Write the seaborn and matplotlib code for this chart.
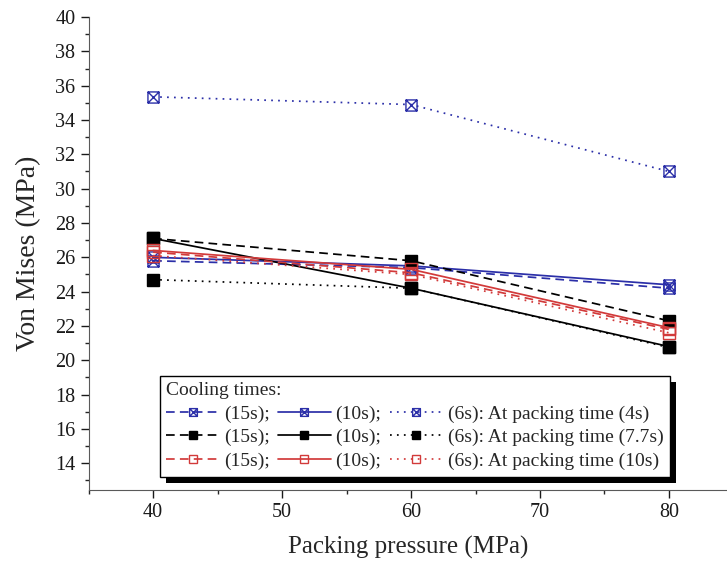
import matplotlib
matplotlib.use('Agg')
import matplotlib.pyplot as plt
from matplotlib.path import Path
from matplotlib.patches import Rectangle
from matplotlib.ticker import MultipleLocator
from matplotlib.transforms import IdentityTransform
import numpy as np
import seaborn as sns

sns.set_style('ticks')
plt.rcParams['font.family'] = ['Liberation Serif', 'DejaVu Serif']

# Data
pressure = [40, 60, 80]

# packing time 4s (blue)
blue_15s = [25.8, 25.4, 24.2]
blue_10s = [26.0, 25.5, 24.4]
blue_6s = [35.35, 34.9, 31.0]
# packing time 7.7s (black)
black_15s = [27.1, 25.8, 22.3]
black_10s = [27.1, 24.2, 20.8]
black_6s = [24.7, 24.2, 20.75]
# packing time 10s (red)
red_15s = [26.3, 25.1, 21.8]
red_10s = [26.4, 25.3, 21.9]
red_6s = [26.1, 25.0, 21.6]

cooling_labels = ['(15s);', '(10s);', '(6s): At packing time']
packing_labels = ['(4s)', '(7.7s)', '(10s)']

# square with an X inside
boxtimes = Path(
    [(-1, -1), (1, -1), (1, 1), (-1, 1), (-1, -1), (-1, -1), (1, 1), (-1, 1), (1, -1)],
    [Path.MOVETO, Path.LINETO, Path.LINETO, Path.LINETO, Path.CLOSEPOLY,
     Path.MOVETO, Path.LINETO, Path.MOVETO, Path.LINETO])

BLUE = '#2b2fa8'
RED = '#d23a3a'
BLACK = 'black'

groups = [
    (BLUE, boxtimes, 'none', [blue_15s, blue_10s, blue_6s], packing_labels[0]),
    (BLACK, 's', BLACK, [black_15s, black_10s, black_6s], packing_labels[1]),
    (RED, 's', 'none', [red_15s, red_10s, red_6s], packing_labels[2]),
]
styles = [(0, (5, 3)), '-', (0, (1, 3))]

fig = plt.figure(figsize=(7.27, 5.67), dpi=100)
ax = fig.add_axes([0.122, 0.136, 0.878, 0.834])

handles = {}
for gi, (color, marker, mfc, series, ptime) in enumerate(groups):
    for si, vals in enumerate(series):
        lab = cooling_labels[si] + (' ' + ptime if si == 2 else '')
        sns.lineplot(x=pressure, y=vals, ax=ax, color=color, linestyle=styles[si],
                     linewidth=1.25, marker=marker, markersize=8,
                     markerfacecolor=mfc, markeredgecolor=color, markeredgewidth=1.0,
                     label=lab, legend=False)
        handles[(gi, si)] = ax.lines[-1]

ax.set_xlim(35, 84.5)
ax.set_ylim(12.45, 40)
ax.xaxis.set_major_locator(MultipleLocator(10))
ax.xaxis.set_minor_locator(MultipleLocator(5))
ax.yaxis.set_major_locator(MultipleLocator(2))
ax.yaxis.set_minor_locator(MultipleLocator(1))
ax.set_yticks(np.arange(14, 41, 2))
ax.tick_params(which='major', direction='out', length=6, width=1, labelsize=14.5, colors='0.1')
ax.tick_params(which='minor', direction='out', length=3, width=1)
for s in ['top', 'right']:
    ax.spines[s].set_visible(False)
for s in ['left', 'bottom']:
    ax.spines[s].set_color('0.35')

ax.set_xlabel('Packing pressure (MPa)', fontsize=18, labelpad=10)
ax.set_ylabel('Von Mises (MPa)', fontsize=20, labelpad=10)

# legend: 3 columns (cooling times), rows = packing times
order = [(g, s) for s in range(3) for g in range(3)]
leg_handles = [handles[k] for k in order]
leg_labels = [h.get_label() for h in leg_handles]
leg = ax.legend(leg_handles, leg_labels, ncol=3, title='Cooling times:',
                loc='lower left', bbox_to_anchor=(0.111, 0.028), borderaxespad=0,
                fontsize=14, title_fontsize=14, alignment='left',
                frameon=True, fancybox=False, edgecolor='black', framealpha=1,
                handlelength=2.7, handletextpad=0.25, columnspacing=0.45,
                labelspacing=0.3, borderpad=0.35, markerscale=0.7)
leg.get_frame().set_linewidth(1.0)
leg.set_zorder(6)

# thick black drop shadow behind the legend box
fig.canvas.draw()
bb = leg.get_window_extent()
off = 6
shadow = Rectangle((bb.x0 + off, bb.y0 - off), bb.width, bb.height,
                   transform=IdentityTransform(), facecolor='black',
                   edgecolor='none', zorder=5.5, clip_on=False)
ax.add_artist(shadow)

plt.savefig('out.png', dpi=100)
plt.close()
